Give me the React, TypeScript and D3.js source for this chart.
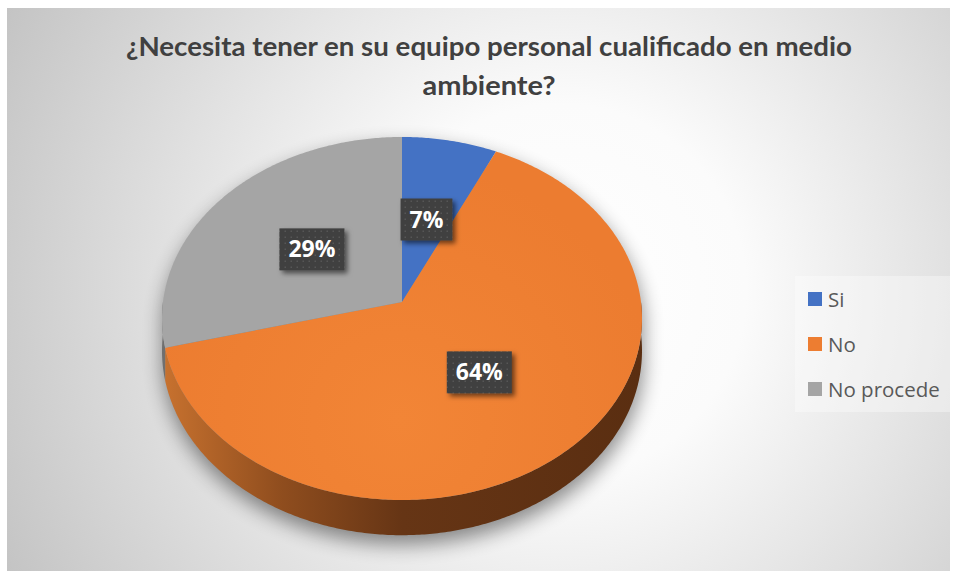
import React from 'react';
import * as d3 from 'd3';

// chart data
const categories = ['Si', 'No', 'No procede'];
const values = [7, 64, 29];
const labels = ['7%', '64%', '29%'];
const colors = ['#4472c4', '#ed7d31', '#a5a5a5'];
const sideColors = ['#2c4f8c', 'url(#sideOrange)', '#6f6f6f'];
const titleLines = ['¿Necesita tener en su equipo personal cualificado en medio', 'ambiente?'];

const W = 956;
const H = 578;

// 3d pie geometry (perspective ellipse)
const CX = 402;
const CY = 302;
const A = 239;
const B = 180;
const K = 0.0909;
const DEPTH = 32;

function proj(theta: number, r: number, dz = 0): [number, number] {
  const u = r * Math.sin(theta);
  const v = -r * Math.cos(theta);
  const s = 1 / (1 - K * v);
  return [CX + A * u * s, CY + B * v * s + dz * s];
}

function rim(a0: number, a1: number, dz = 0) {
  const n = Math.max(2, Math.ceil(Math.abs(a1 - a0) / 0.01));
  const pts: [number, number][] = [];
  for (let i = 0; i <= n; i++) {
    pts.push(proj(a0 + ((a1 - a0) * i) / n, 1, dz));
  }
  return pts;
}

const line = d3.line().curve(d3.curveLinear);

function measure(text: string, font: string) {
  const ctx = document.createElement('canvas').getContext('2d');
  if (!ctx) return text.length * 14;
  ctx.font = font;
  return ctx.measureText(text).width;
}

export default function App() {
  const arcs = d3.pie<number>().sort(null)(values);
  const labelFont = '700 23px "Open Sans"';

  const tops = arcs.map((a) => {
    const pts = [proj(0, 0), ...rim(a.startAngle, a.endAngle)];
    return line(pts) + 'Z';
  });
  // only the front half of the rim is visible
  const sides = arcs.map((a) => {
    const s0 = Math.max(a.startAngle, Math.PI / 2);
    const s1 = Math.min(a.endAngle, Math.PI * 1.5);
    if (s1 <= s0) return null;
    const pts = [...rim(s0, s1), ...rim(s0, s1, DEPTH).reverse()];
    return line(pts) + 'Z';
  });
  const fullTop = line(rim(0, Math.PI * 2)) + 'Z';
  const fullBottom = line(rim(0, Math.PI * 2, DEPTH)) + 'Z';
  const fullSide = line([...rim(Math.PI / 2, Math.PI * 1.5), ...rim(Math.PI / 2, Math.PI * 1.5, DEPTH).reverse()]) + 'Z';

  return (
    <div style={{ position: 'absolute', left: 0, top: 0 }}>
      <svg width={W} height={H} style={{ display: 'block' }}>
        <defs>
          <radialGradient id="bg" gradientUnits="userSpaceOnUse" cx={560} cy={290} r={620}>
            <stop offset="0" stopColor="#ffffff" />
            <stop offset="0.3" stopColor="#fbfbfb" />
            <stop offset="1" stopColor="#c4c4c4" />
          </radialGradient>
          <linearGradient id="sideOrange" gradientUnits="userSpaceOnUse" x1={162} x2={642} y1={0} y2={0}>
            <stop offset="0" stopColor="#c8722f" />
            <stop offset="0.25" stopColor="#8f4d1e" />
            <stop offset="0.5" stopColor="#663515" />
            <stop offset="1" stopColor="#5a2e11" />
          </linearGradient>
          <radialGradient id="topOrange" gradientUnits="userSpaceOnUse" cx={400} cy={420} r={260}>
            <stop offset="0" stopColor="#f28536" />
            <stop offset="1" stopColor="#ec7c30" />
          </radialGradient>
          <filter id="pieShadow" x="-20%" y="-20%" width="140%" height="140%">
            <feGaussianBlur stdDeviation="10" />
          </filter>
          <filter id="boxShadow" x="-30%" y="-30%" width="160%" height="160%">
            <feDropShadow dx="3" dy="3" stdDeviation="2.5" floodColor="#000" floodOpacity="0.55" />
          </filter>
          <pattern id="dots" width="6" height="6" patternUnits="userSpaceOnUse">
            <rect width="6" height="6" fill="#3f3f3f" />
            <rect x="2.5" y="2.5" width="1.5" height="1.5" fill="#565656" />
          </pattern>
        </defs>

        <rect x={7} y={8} width={943} height={563} fill="url(#bg)" />

        {titleLines.map((t, i) => (
          <text
            key={i}
            x={489}
            y={56 + i * 39}
            textAnchor="middle"
            fontFamily='"Liberation Sans Narrow", Lato, sans-serif'
            fontWeight={700}
            fontSize={27}
            fill="#404040"
            textLength={i === 0 ? 726 : 133}
            lengthAdjust="spacingAndGlyphs"
          >
            {t}
          </text>
        ))}

        <g filter="url(#pieShadow)" opacity={0.45} transform="translate(1,9)">
          <path d={fullTop} fill="#000" />
          <path d={fullBottom} fill="#000" />
          <path d={fullSide} fill="#000" />
        </g>

        {sides.map((d, i) => (d ? <path key={'s' + i} d={d} fill={sideColors[i]} /> : null))}
        {tops.map((d, i) => (
          <path key={'t' + i} d={d} fill={i === 1 ? 'url(#topOrange)' : colors[i]} />
        ))}

        {arcs.map((a, i) => {
          const mid = (a.startAngle + a.endAngle) / 2;
          const [lx, ly] = proj(mid, 0.49);
          const tw = measure(labels[i], labelFont);
          const bw = tw + 18;
          const bh = 42;
          return (
            <g key={'l' + i}>
              <rect x={lx - bw / 2} y={ly - bh / 2} width={bw} height={bh} fill="url(#dots)" filter="url(#boxShadow)" />
              <text
                x={lx}
                y={ly + 8}
                textAnchor="middle"
                fontFamily='"Open Sans", sans-serif'
                fontWeight={700}
                fontSize={23}
                fill="#ffffff"
              >
                {labels[i]}
              </text>
            </g>
          );
        })}

        <rect x={795} y={276} width={157} height={136} fill="#ffffff" opacity={0.35} />
        {categories.map((c, i) => (
          <g key={'g' + i}>
            <rect x={808} y={292 + i * 45} width={14} height={14} fill={colors[i]} />
            <text x={828} y={306.5 + i * 45} fontFamily='"Open Sans", sans-serif' fontSize={20.5} fill="#595959">
              {c}
            </text>
          </g>
        ))}
      </svg>
    </div>
  );
}
